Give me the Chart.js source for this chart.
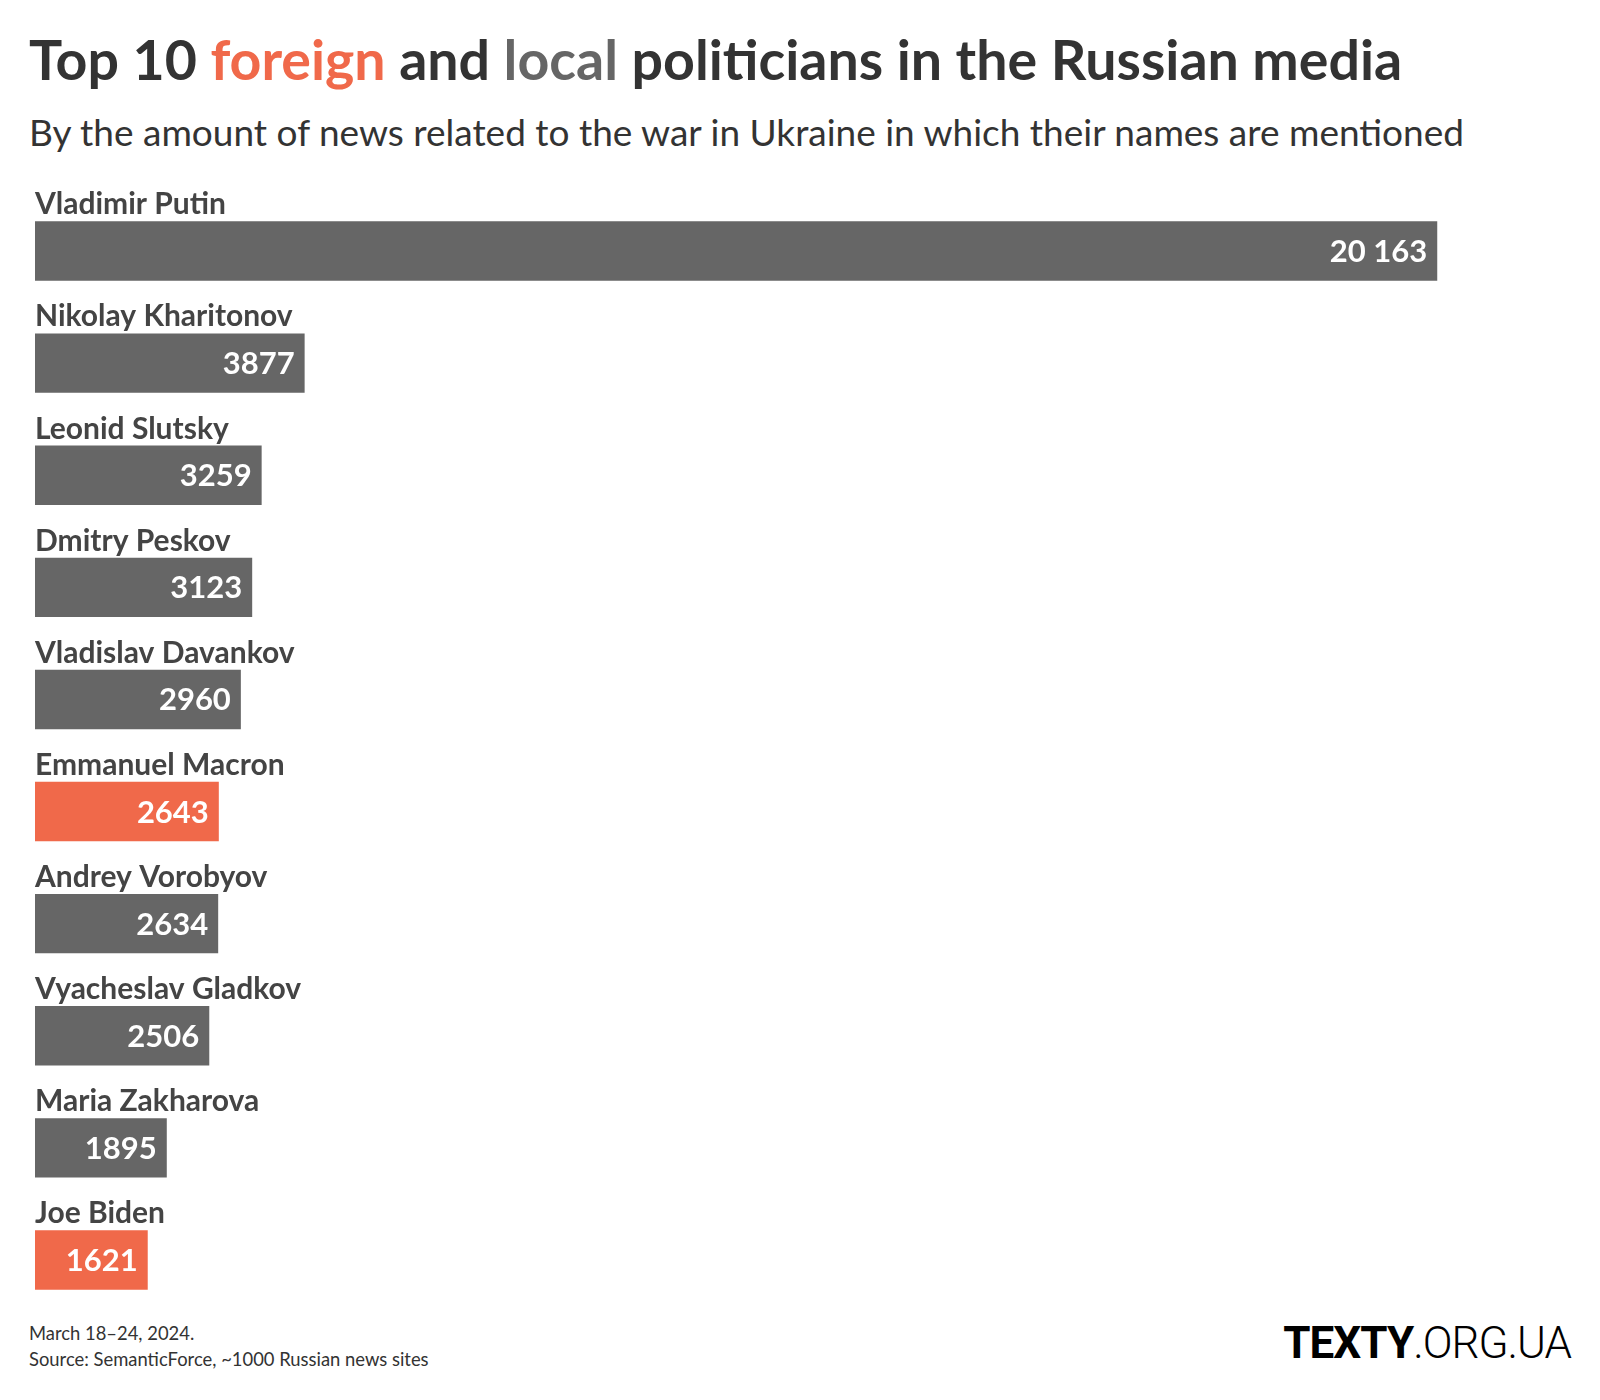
<!DOCTYPE html>
<html>
<head>
<meta charset="utf-8">
<script src="https://cdn.jsdelivr.net/npm/chart.js@4"></script>
<style>
  html, body { margin: 0; padding: 0; background: #fff; }
  body { width: 1600px; height: 1400px; position: relative; overflow: hidden; font-family: Lato, sans-serif; }
  .title { position: absolute; left: 29px; top: 31px; font-size: 55.5px; line-height: 1; font-weight: 700; color: #333; white-space: nowrap; }
  .title .foreign { color: #f0694a; }
  .title .local { color: #666; }
  .subtitle { position: absolute; left: 29px; top: 113px; font-size: 37px; line-height: 1; font-weight: 400; color: #333; white-space: nowrap; }
  #chartWrap { position: absolute; left: 0; top: 175px; width: 1600px; height: 1141px; }
  .note { position: absolute; left: 29px; font-size: 18.4px; line-height: 1; color: #333; white-space: nowrap; }
  .logo { position: absolute; right: 29px; top: 1321px; font-family: Roboto, sans-serif; font-size: 44px; line-height: 1; color: #000; letter-spacing: -1px; white-space: nowrap; }
  .logo b { font-weight: 700; }
  .logo span { font-weight: 300; }
</style>
</head>
<body>
<div class="title">Top 10 <span class="foreign">foreign</span> and <span class="local">local</span> politicians in the Russian media</div>
<div class="subtitle">By the amount of news related to the war in Ukraine in which their names are mentioned</div>
<div id="chartWrap"><canvas id="barChart"></canvas></div>
<div class="note" style="top:1324px">March 18–24, 2024.</div>
<div class="note" style="top:1350px">Source: SemanticForce, ~1000 Russian news sites</div>
<div class="logo"><b>TEXTY</b><span>.ORG.UA</span></div>

<script>
// politicians and mention counts
const names = ["Vladimir Putin", "Nikolay Kharitonov", "Leonid Slutsky", "Dmitry Peskov", "Vladislav Davankov",
               "Emmanuel Macron", "Andrey Vorobyov", "Vyacheslav Gladkov", "Maria Zakharova", "Joe Biden"];
const mentions = [20163, 3877, 3259, 3123, 2960, 2643, 2634, 2506, 1895, 1621];
const groups = ["local", "local", "local", "local", "local", "foreign", "local", "local", "local", "foreign"];

const groupColors = { local: "#666666", foreign: "#f0694a" };

function formatValue(n) {
    // space as thousands separator only for 5+ digits
    return n >= 10000 ? String(n).replace(/\B(?=(\d{3})+(?!\d))/g, " ") : String(n);
}

// names above bars, values inside bar ends
const barLabels = {
    id: "barLabels",
    afterDatasetsDraw(chart) {
        const ctx = chart.ctx;
        const meta = chart.getDatasetMeta(0);
        ctx.save();
        meta.data.forEach((bar, i) => {
            const top = bar.y - bar.height / 2;
            ctx.textAlign = "left";
            ctx.textBaseline = "alphabetic";
            ctx.fillStyle = "#444";
            ctx.font = "700 30px Lato";
            ctx.fillText(names[i], chart.chartArea.left, top - 7);

            ctx.textAlign = "right";
            ctx.fillStyle = "#fff";
            ctx.font = "700 31px Lato";
            ctx.fillText(formatValue(mentions[i]), bar.x - 10, bar.y + 11);
        });
        ctx.restore();
    }
};

new Chart(document.getElementById("barChart"), {
    type: "bar",
    data: {
        labels: names,
        datasets: [{
            data: mentions,
            backgroundColor: groups.map(g => groupColors[g]),
            categoryPercentage: 1,
            barPercentage: 0.53
        }]
    },
    options: {
        indexAxis: "y",
        responsive: true,
        maintainAspectRatio: false,
        animation: false,
        devicePixelRatio: 1,
        layout: { padding: { left: 35, right: 35, top: 20, bottom: 0 } },
        scales: {
            x: { display: false, min: 0, max: 22000 },
            y: { display: false }
        },
        plugins: {
            legend: { display: false },
            tooltip: { enabled: false }
        }
    },
    plugins: [barLabels]
});
</script>
</body>
</html>
